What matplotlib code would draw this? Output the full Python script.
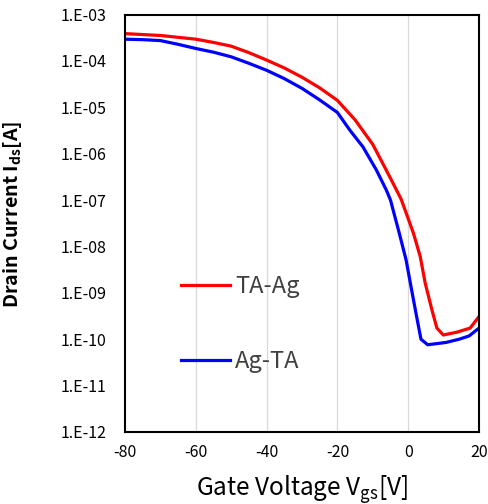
import numpy as np
import matplotlib
matplotlib.use("Agg")
import matplotlib.pyplot as plt

plt.rcParams['font.family'] = ['Noto Sans CJK JP', 'DejaVu Sans']
plt.rcParams['axes.unicode_minus'] = False
plt.rcParams['mathtext.fontset'] = 'custom'
plt.rcParams['mathtext.rm'] = 'Noto Sans CJK JP'
plt.rcParams['mathtext.bf'] = 'Noto Sans CJK JP:bold'

# gate voltage [V] and log10 of drain current [A]
vgs_ta_ag = [-80, -75, -70, -65, -60, -55, -50, -45, -40, -35, -30, -25, -20,
             -15, -10, -5, -2, 0, 1.5, 3.4, 4.8, 6.7, 8.1, 9.9, 13.7, 17.5, 20]
log_ids_ta_ag = [-3.41, -3.43, -3.45, -3.49, -3.53, -3.60, -3.68, -3.82, -3.98,
                 -4.15, -4.35, -4.58, -4.85, -5.27, -5.80, -6.53, -6.98, -7.40,
                 -7.72, -8.22, -8.79, -9.37, -9.76, -9.91, -9.85, -9.76, -9.51]

vgs_ag_ta = [-80, -75, -70, -65, -60, -55, -50, -45, -40, -35, -30, -25, -20,
             -16.5, -12.8, -9, -6.2, -5, -2.5, -0.6, 0.8, 2.2, 3.6, 5.5, 10.7,
             14.4, 17.2, 20]
log_ids_ag_ta = [-3.53, -3.54, -3.56, -3.64, -3.73, -3.81, -3.91, -4.05, -4.20,
                 -4.38, -4.59, -4.84, -5.11, -5.49, -5.85, -6.35, -6.78, -7.00,
                 -7.72, -8.29, -8.87, -9.44, -10.0, -10.12, -10.07, -10.0, -9.93,
                 -9.76]

labels = ['TA-Ag', 'Ag-TA']
colors = ['#ff0000', '#0000ff']

x_ticks = [-80, -60, -40, -20, 0, 20]
y_exps = list(range(-12, -2))

fig = plt.figure(figsize=(4.88, 5.04), dpi=100)
ax = fig.add_axes([0.256, 0.143, 0.7256, 0.828])

ax.plot(vgs_ta_ag, 10 ** np.array(log_ids_ta_ag), color=colors[0], lw=2.3, label=labels[0])
ax.plot(vgs_ag_ta, 10 ** np.array(log_ids_ag_ta), color=colors[1], lw=2.3, label=labels[1])

ax.set_yscale('log')
ax.set_xlim(-80, 20)
ax.set_ylim(1e-12, 1e-3)
ax.set_xticks(x_ticks)
ax.set_xticklabels([str(t) for t in x_ticks])
ax.set_yticks([10.0 ** e for e in y_exps])
ax.set_yticklabels(['1.E-%02d' % -e for e in y_exps])
ax.yaxis.set_minor_locator(matplotlib.ticker.NullLocator())
ax.tick_params(axis='both', length=0, labelsize=11.5, colors='#000000')
ax.tick_params(axis='y', pad=13)
ax.tick_params(axis='x', pad=9)

for t in x_ticks[1:-1]:
    ax.axvline(t, color='#d9d9d9', lw=0.9, zorder=0)

for s in ax.spines.values():
    s.set_linewidth(1.5)
    s.set_color('black')

ax.set_xlabel(r'Gate Voltage V$_{\mathrm{gs}}$[V]', fontsize=17.5, va='baseline')
ax.set_ylabel(r'Drain Current I$_{\mathbf{ds}}$[A]', fontsize=14.2, fontweight='bold')
ax.xaxis.set_label_coords(0.5, -0.151)
ax.yaxis.set_label_coords(-0.285, 0.521)

leg = ax.legend(loc='center left', bbox_to_anchor=(0.158, 0.2575), frameon=False,
                fontsize=17, handlelength=2.1, handletextpad=0.2, labelspacing=2.2,
                borderpad=0, borderaxespad=0)
for txt in leg.get_texts():
    txt.set_color('#404040')

fig.savefig('out.png', dpi=100)
